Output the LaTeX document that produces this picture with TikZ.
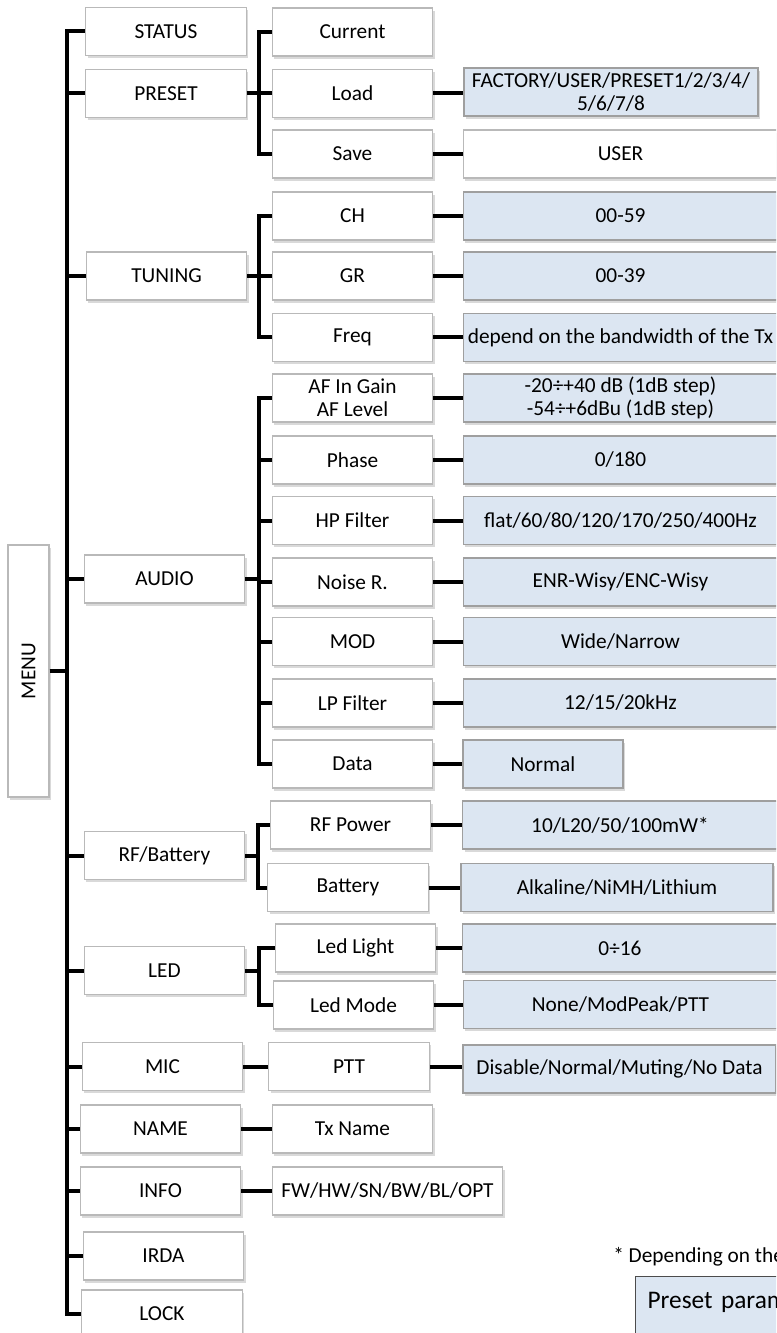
\documentclass[tikz,border=0pt]{standalone}
\usepackage{fontspec}
\setmainfont{Carlito}
\usetikzlibrary{shadows}
\definecolor{valblue}{HTML}{DCE6F2}
\tikzset{
  item/.style={draw=gray!55, fill=white, line width=.8pt, minimum width=120.5pt,
    minimum height=36pt, inner sep=0pt, align=center,
    font=\fontsize{16}{17.5}\selectfont,
    drop shadow={shadow xshift=1.5pt, shadow yshift=-2pt, opacity=.3}},
  value/.style={item, draw=gray!75, fill=valblue, minimum width=236pt},
  wire/.style={line width=3pt},
}

\begin{document}
\begin{tikzpicture}[x=.75pt, y=-.75pt]
    \useasboundingbox (0,0) rectangle (776,1333);
    \clip (0,0) rectangle (776,1333);

    \node[item, minimum width=30.75pt, minimum height=189pt] (menu) at (28.5,671) {\rotatebox{90}{MENU}};

    \node[item] (status) at (166,31.5) {STATUS};
    \node[item] (preset) at (166,93.5) {PRESET};
    \node[item] (tuning) at (166.5,276) {TUNING};
    \node[item] (audio) at (164.5,579) {AUDIO};
    \node[item] (rfbat) at (164.5,855.5) {RF/Battery};
    \node[item] (led) at (164.5,970.5) {LED};
    \node[item] (mic) at (162.5,1066.5) {MIC};
    \node[item] (name) at (160.5,1129) {NAME};
    \node[item] (info) at (160.5,1191) {INFO};
    \node[item] (irda) at (163.5,1256) {IRDA};
    \node[item] (lock) at (162,1314) {LOCK};

    \node[item] (current) at (352.5,32) {Current};
    \node[item] (load) at (352.5,93.5) {Load};
    \node[item] (save) at (352.5,154) {Save};
    \node[item] (ch) at (352.5,216) {CH};
    \node[item] (gr) at (352.5,276) {GR};
    \node[item] (freq) at (352.5,337.5) {Freq};
    \node[item] (afgain) at (352.5,398) {AF In Gain\\AF Level};
    \node[item] (phase) at (352.5,460) {Phase};
    \node[item] (hpf) at (352.5,520.5) {HP Filter};
    \node[item] (noise) at (352.5,582) {Noise R.};
    \node[item] (mod) at (352.5,641.5) {MOD};
    \node[item] (lpf) at (352.5,703) {LP Filter};
    \node[item] (data) at (352.5,764) {Data};
    \node[item] (rfpower) at (350.5,825) {RF Power};
    \node[item] (battery) at (348,887.5) {Battery};
    \node[item] (ledlight) at (355.5,948) {Led Light};
    \node[item] (ledmode) at (353.5,1005) {Led Mode};
    \node[item] (ptt) at (349,1066.5) {PTT};
    \node[item] (txname) at (352.5,1129) {Tx Name};
    \node[item, minimum width=173pt] (fw) at (387.5,1191) {FW/HW/SN/BW/BL/OPT};

    \node[value, minimum width=220.5pt] (loadval) at (611,92) {FACTORY/USER/PRESET1/2/3/4/\\5/6/7/8};
    \node[value, fill=white, draw=gray!55] (saveval) at (620.5,154) {USER};
    \node[value] (chval) at (620.5,216) {00-59};
    \node[value] (grval) at (620.5,276) {00-39};
    \node[value] (freqval) at (620.5,337.5) {depend on the bandwidth of the Tx};
    \node[value] (afval) at (620.5,398) {-20÷+40 dB (1dB step)\\-54÷+6dBu (1dB step)};
    \node[value] (phaseval) at (620.5,460) {0/180};
    \node[value] (hpfval) at (620.5,520.5) {flat/60/80/120/170/250/400Hz};
    \node[value] (noiseval) at (620.5,582) {ENR-Wisy/ENC-Wisy};
    \node[value] (modval) at (620.5,641.5) {Wide/Narrow};
    \node[value] (lpfval) at (620.5,703) {12/15/20kHz};
    \node[value, minimum width=120pt] (dataval) at (543,764) {Normal};
    \node[value] (rfpowerval) at (620,825) {10/L20/50/100mW*};
    \node[value, minimum width=234pt] (batteryval) at (617,887.5) {Alkaline/NiMH/Lithium};
    \node[value] (ledlightval) at (620,948) {0÷16};
    \node[value] (ledmodeval) at (620.5,1004.5) {None/ModPeak/PTT};
    \node[value, minimum width=234.75pt] (pttval) at (619.5,1069) {Disable/Normal/Muting/No Data};

    \node[anchor=west, inner sep=0pt, font=\fontsize{16}{17.5}\selectfont] (note) at (613,1257) {* Depending on the};
    \node[anchor=north west, draw=black!70, fill=valblue, line width=.8pt, inner xsep=9pt, inner ysep=12pt,
      text width=130pt, text depth=35pt, align=left, font=\fontsize{19}{21}\selectfont] (key) at (635,1276) {Preset param};

    % main bus
    \draw[wire] (menu.east) -- ++(17.5,0) |- (status.west);
    \draw[wire] (menu.east) -- ++(17.5,0) |- (lock.west);
    \coordinate (bus) at (66,0);
    \foreach \n in {preset,tuning,audio,rfbat,led,mic,name,info,irda}
        \draw[wire] (\n.west) -- (\n.west -| bus);

    \draw[wire] (preset.east) -- ++(12,0) |- (current.west);
    \draw[wire] (preset.east) -- ++(12,0) |- (save.west);
    \draw[wire] (preset.east) -- (load.west);

    \draw[wire] (tuning.east) -- ++(12,0) |- (ch.west);
    \draw[wire] (tuning.east) -- ++(12,0) |- (freq.west);
    \draw[wire] (tuning.east) -- (gr.west);

    \draw[wire] (audio.east) -- ++(13.5,0) coordinate (audiobus) |- (afgain.west);
    \draw[wire] (audio.east) -- ++(13.5,0) |- (data.west);
    \foreach \n in {phase,hpf,noise,mod,lpf}
        \draw[wire] (\n.west) -- (\n.west -| audiobus);

    \draw[wire] (rfbat.east) -- ++(13,0) |- (rfpower.west);
    \draw[wire] (rfbat.east) -- ++(13,0) |- (battery.west);

    \draw[wire] (led.east) -- ++(14,0) |- (ledlight.west);
    \draw[wire] (led.east) -- ++(14,0) |- (ledmode.west);

    \draw[wire] (mic.east) -- (ptt.west);
    \draw[wire] (name.east) -- (txname.west);
    \draw[wire] (info.east) -- (fw.west);

    \foreach \a/\b in {load/loadval, save/saveval, ch/chval, gr/grval, freq/freqval,
        afgain/afval, phase/phaseval, hpf/hpfval, noise/noiseval, mod/modval,
        lpf/lpfval, data/dataval, rfpower/rfpowerval, battery/batteryval,
        ledlight/ledlightval, ledmode/ledmodeval, ptt/pttval}
        \draw[wire] (\a.east) -- (\a.east -| \b.west);
\end{tikzpicture}
\end{document}
